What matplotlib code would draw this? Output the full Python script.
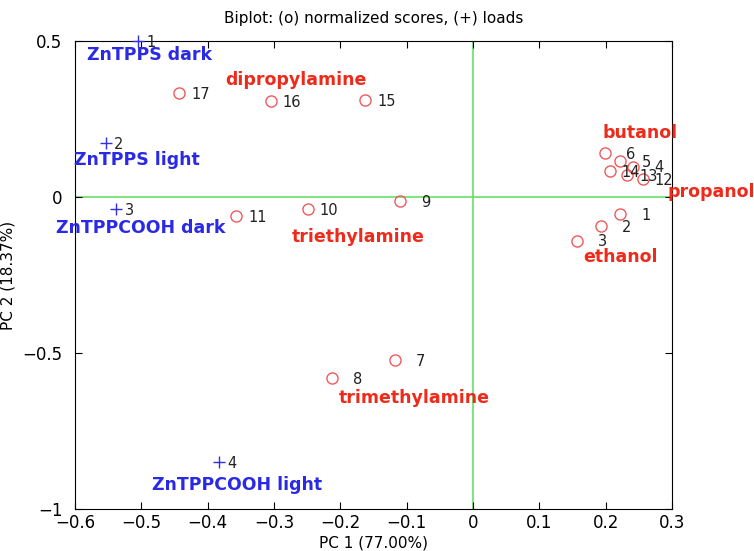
import numpy as np
from matplotlib import pyplot as plt

# scores (o)
score_ids = [1, 2, 3, 4, 5, 6, 7, 8, 9, 10, 11, 12, 13, 14, 15, 16, 17]
score_x = [0.222, 0.193, 0.156, 0.241, 0.222, 0.198, -0.118, -0.213, -0.110,
           -0.249, -0.357, 0.256, 0.232, 0.206, -0.163, -0.305, -0.443]
score_y = [-0.054, -0.093, -0.140, 0.097, 0.116, 0.140, -0.522, -0.580, -0.013,
           -0.038, -0.061, 0.057, 0.070, 0.083, 0.311, 0.308, 0.333]

# loads (+)
load_ids = [1, 2, 3, 4]
load_x = [-0.505, -0.554, -0.538, -0.383]
load_y = [0.500, 0.173, -0.038, -0.849]

# group names
sensor_names = ["ZnTPPS dark", "ZnTPPS light", "ZnTPPCOOH dark", "ZnTPPCOOH light"]
sensor_pos = [(-0.488, 0.455), (-0.507, 0.119), (-0.501, -0.099), (-0.356, -0.923)]
analyte_names = ["dipropylamine", "triethylamine", "trimethylamine",
                 "butanol", "propanol", "ethanol"]
analyte_pos = [(-0.267, 0.375), (-0.173, -0.128), (-0.089, -0.644),
               (0.252, 0.205), (0.359, 0.016), (0.222, -0.192)]


def main():
    fig = plt.figure(figsize=(7.54, 5.51), dpi=100)
    ax = fig.add_axes([0.0995, 0.076, 0.792, 0.850])

    ax.axhline(0, color="#66e066", lw=1.2, zorder=1)
    ax.axvline(0, color="#66e066", lw=1.2, zorder=1)

    ax.plot(score_x, score_y, "o", mfc="none", mec="#f05a5a", ms=8, mew=1.0,
            linestyle="none", zorder=3)
    for i, x, y in zip(score_ids, score_x, score_y):
        ax.annotate(f"{i}", (x, y), xytext=(22, -1), textcoords="offset points",
                    ha="right", va="center", fontsize=10.5, color="#222222")

    ax.plot(load_x, load_y, "+", color="#3030e0", ms=9, mew=1.0,
            linestyle="none", zorder=3, clip_on=False)
    for i, x, y in zip(load_ids, load_x, load_y):
        ax.annotate(f"{i}", (x, y), xytext=(6, -1), textcoords="offset points",
                    ha="left", va="center", fontsize=10.5, color="#222222")

    for name, (x, y) in zip(sensor_names, sensor_pos):
        ax.text(x, y, name, color="#2a2ae6", fontsize=12.5, fontweight="bold",
                ha="center", va="center", clip_on=False)
    for name, (x, y) in zip(analyte_names, analyte_pos):
        ax.text(x, y, name, color="#ee2a1a", fontsize=12.5, fontweight="bold",
                ha="center", va="center", clip_on=False)

    ax.set_xlim(-0.6, 0.3)
    ax.set_ylim(-1, 0.5)
    ax.set_xticks(np.arange(-0.6, 0.31, 0.1))
    ax.set_xticklabels(["\u22120.6", "\u22120.5", "\u22120.4", "\u22120.3", "\u22120.2",
                        "\u22120.1", "0", "0.1", "0.2", "0.3"])
    ax.set_yticks([-1, -0.5, 0, 0.5])
    ax.set_yticklabels(["\u22121", "\u22120.5", "0", "0.5"])
    ax.tick_params(direction="in", top=True, right=True, labelsize=12, length=5)
    ax.tick_params(axis="y", pad=9)

    ax.set_xlabel("PC 1 (77.00%)", fontsize=11)
    ax.xaxis.set_label_coords(0.5, -0.056)
    ax.set_ylabel("PC 2 (18.37%)", fontsize=11)
    ax.yaxis.set_label_coords(-0.100, 0.5)
    ax.set_title("Biplot: (o) normalized scores, (+) loads", fontsize=11, pad=13)

    plt.savefig("out.png", dpi=100)
    plt.close()


if '__main__' == __name__:
    main()
